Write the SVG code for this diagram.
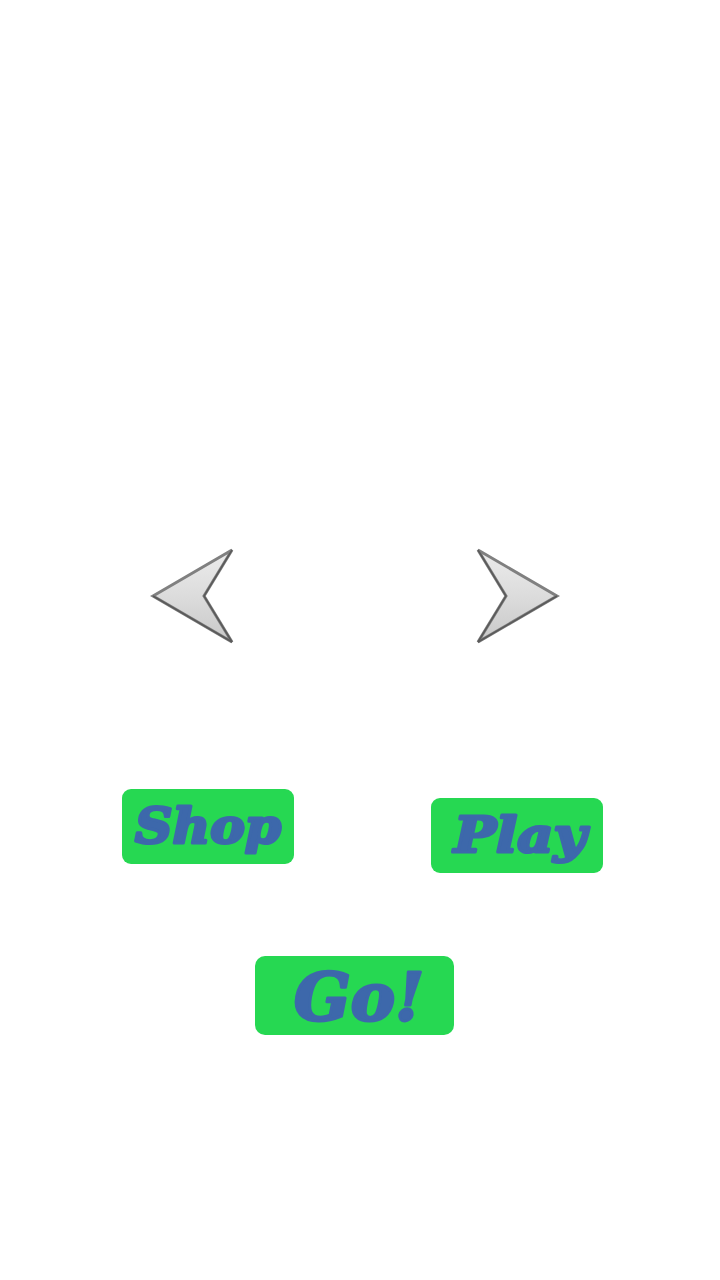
<svg xmlns="http://www.w3.org/2000/svg" width="720" height="1280" viewBox="0 0 720 1280">
<defs>
<style>
.btn{fill:#26d852}
.lbl{fill:#3d68ab;stroke:#3d68ab;stroke-width:3;stroke-linejoin:round;font-family:"DejaVu Serif","Liberation Serif",serif;font-weight:bold;font-style:italic;text-anchor:middle}
.arr{fill:url(#g);stroke:#808080;stroke-width:3;stroke-linejoin:miter}
.inner{fill:none;stroke:#5a5a5a;stroke-width:1.5}
</style>
<linearGradient id="g" x1="0" y1="0" x2="0" y2="1">
<stop offset="0" stop-color="#ececec"/>
<stop offset="0.5" stop-color="#dcdcdc"/>
<stop offset="1" stop-color="#c8c8c8"/>
</linearGradient>
</defs>
<rect width="720" height="1280" fill="#ffffff"/>
<g id="left-arrow">
<polygon class="arr" points="153,596 232,550 204,596 232,642"/>
<polyline class="inner" points="232,550 204,596 232,642"/>
<polyline class="inner" points="153,596 232,642" stroke="#606060"/>
</g>
<g id="right-arrow">
<polygon class="arr" points="557,596 478,550 506,596 478,642"/>
<polyline class="inner" points="478,550 506,596 478,642"/>
<polyline class="inner" points="557,596 478,642" stroke="#606060"/>
</g>
<g id="shop">
<rect class="btn" x="122" y="789" width="172" height="75" rx="9"/>
<text class="lbl" x="208" y="843" font-size="48" textLength="146" lengthAdjust="spacingAndGlyphs">Shop</text>
</g>
<g id="play">
<rect class="btn" x="431" y="798" width="172" height="75" rx="9"/>
<text class="lbl" x="520" y="852" font-size="48" textLength="132" lengthAdjust="spacingAndGlyphs">Play</text>
</g>
<g id="go">
<rect class="btn" x="255" y="956" width="199" height="79" rx="10"/>
<text class="lbl" x="359" y="1020" font-size="66" textLength="130" lengthAdjust="spacingAndGlyphs">Go!</text>
</g>
</svg>
